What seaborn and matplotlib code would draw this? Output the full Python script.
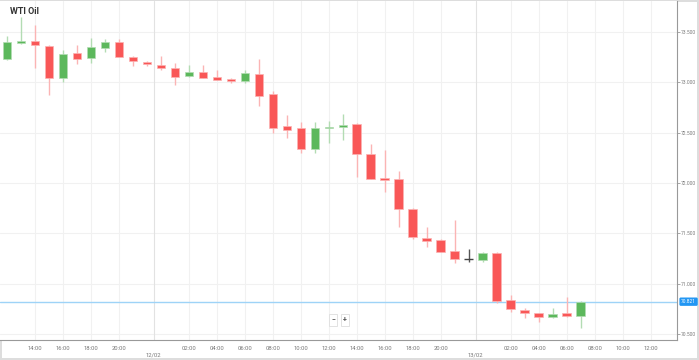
import numpy as np
import pandas as pd
import seaborn as sns
import matplotlib.pyplot as plt
import matplotlib.transforms as mtransforms

# hourly WTI candles
opens = [73.235, 73.397, 73.416, 73.367, 73.043, 73.291, 73.241, 73.347, 73.401, 73.257,
         73.202, 73.178, 73.148, 73.065, 73.108, 73.056, 73.033, 73.019, 73.082, 72.887,
         72.571, 72.545, 72.337, 72.545, 72.561, 72.585, 72.287, 72.048, 72.041, 71.740,
         71.458, 71.432, 71.328, 71.243, 71.236, 71.309, 70.838, 70.736, 70.706, 70.672,
         70.706, 70.679]
highs = [73.463, 73.649, 73.573, 73.374, 73.324, 73.374, 73.446, 73.433, 73.430, 73.267,
         73.212, 73.264, 73.192, 73.175, 73.175, 73.122, 73.049, 73.125, 73.235, 72.916,
         72.678, 72.611, 72.605, 72.621, 72.685, 72.595, 72.389, 72.327, 72.116, 71.748,
         71.559, 71.445, 71.634, 71.342, 71.316, 71.319, 70.888, 70.756, 70.712, 70.756,
         70.865, 70.828]
lows = [73.225, 73.381, 73.142, 72.877, 73.003, 73.182, 73.192, 73.301, 73.254, 73.165,
        73.165, 73.125, 72.976, 73.056, 73.043, 73.026, 72.993, 72.999, 72.770, 72.496,
        72.446, 72.297, 72.303, 72.402, 72.429, 72.064, 72.036, 71.915, 71.561, 71.445,
        71.365, 71.310, 71.209, 71.219, 71.219, 70.805, 70.722, 70.656, 70.616, 70.662,
        70.672, 70.557]
closes = [73.404, 73.411, 73.371, 73.049, 73.281, 73.238, 73.351, 73.407, 73.257, 73.218,
          73.182, 73.142, 73.059, 73.102, 73.049, 73.029, 73.013, 73.090, 72.870, 72.551,
          72.532, 72.337, 72.551, 72.558, 72.578, 72.288, 72.038, 72.034, 71.743, 71.465,
          71.425, 71.318, 71.246, 71.243, 71.309, 70.831, 70.746, 70.706, 70.669, 70.702,
          70.676, 70.821]

tick_pos = [2, 4, 6, 8, 10.5, 13, 15, 17, 19, 21, 23,
            25, 27, 29, 31, 33.5, 36, 38, 40, 42, 44, 46]
tick_labels = ["14:00", "16:00", "18:00", "20:00", "\n12/02", "02:00", "04:00", "06:00",
               "08:00", "10:00", "12:00", "14:00", "16:00", "18:00", "20:00", "\n13/02",
               "02:00", "04:00", "06:00", "08:00", "10:00", "12:00"]
date_pos = [10.5, 33.5]
price_ticks = [70.5, 71.0, 71.5, 72.0, 72.5, 73.0, 73.5]
last_price = 70.821

df = pd.DataFrame({"open": opens, "high": highs, "low": lows, "close": closes})
df["idx"] = np.arange(len(df))
df["up"] = df["close"] > df["open"]
df["flat"] = (df["close"] - df["open"]).abs() < 0.001

red, red_wick = "#f95757", "#fbb4b4"
green, green_wick = "#5cb85c", "#b3dcb3"

sns.set_theme(style="white")
plt.rcParams["font.family"] = ["Roboto", "DejaVu Sans"]

fig = plt.figure(figsize=(6.99, 3.6), dpi=100)
fig.patch.set_edgecolor("#dddddd")
fig.patch.set_linewidth(1.5)
ax = fig.add_axes([0, 20 / 360, 677 / 699, 339 / 360])

# grid
for y in price_ticks:
    ax.axhline(y, color="#f1f1f1", lw=0.8, zorder=0)
for x in tick_pos:
    ax.axvline(x, color="#e2e2e2" if x in date_pos else "#f1f1f1", lw=0.8, zorder=0)

# wicks
wick_colors = np.where(df["flat"], "#555555", np.where(df["up"], green_wick, red_wick))
ax.vlines(df["idx"], df["low"], df["high"], colors=wick_colors, lw=1, zorder=2)

# bodies
body = df[~df["flat"]]
bottoms = np.minimum(body["open"], body["close"])
heights = np.maximum((body["close"] - body["open"]).abs(), 0.012)
ax.bar(body["idx"], heights, bottom=bottoms, width=0.6,
       color=np.where(body["up"], green, red),
       edgecolor=np.where(body["up"], green_wick, red_wick), linewidth=0.5, zorder=3)
flat = df[df["flat"]]
ax.hlines(flat["close"], flat["idx"] - 0.3, flat["idx"] + 0.3, colors="#444444", lw=1, zorder=3)

# last price line + label
ax.axhline(last_price, color="#9ed3f7", lw=1, zorder=1)
trans = mtransforms.blended_transform_factory(ax.transAxes, ax.transData)
ax.text(1.006, last_price, f"{last_price:.3f}", transform=trans, ha="left", va="center",
        fontsize=3.5, color="white",
        bbox=dict(boxstyle="round,pad=0.2,rounding_size=0.15", fc="#2196f3", ec="#2196f3"))

ax.set_xlim(-0.48, 47.88)
ax.set_ylim(70.44, 73.81)

ax.yaxis.tick_right()
ax.set_yticks(price_ticks)
ax.set_yticklabels([f"{v:.3f}" for v in price_ticks])
ax.set_xticks(tick_pos)
ax.set_xticklabels(tick_labels)
ax.tick_params(axis="y", direction="out", length=2, width=0.6, color="#999999",
               labelsize=3.6, labelcolor="#777777", pad=1)
ax.tick_params(axis="x", direction="out", length=3, width=0.6, color="#bbbbbb",
               labelsize=4.2, labelcolor="#777777", pad=1.5)
for s in ["top", "left"]:
    ax.spines[s].set_visible(False)
for s in ["right", "bottom"]:
    ax.spines[s].set_color("#999999")
    ax.spines[s].set_linewidth(0.8)

# title
fig.text(10 / 699, 1 - 12 / 360, "WTI Oil", fontsize=6.5, fontweight="bold",
         color="#333333", ha="left", va="center")

# zoom buttons
for xp, sym in [(333, "\u2212"), (345, "+")]:
    fig.text(xp / 699, 1 - 320 / 360, sym, fontsize=5, fontweight="bold", color="#555555",
             ha="center", va="center",
             bbox=dict(boxstyle="square,pad=0.35", fc="white", ec="#dddddd", lw=0.6))

plt.savefig("out.png", dpi=100)
